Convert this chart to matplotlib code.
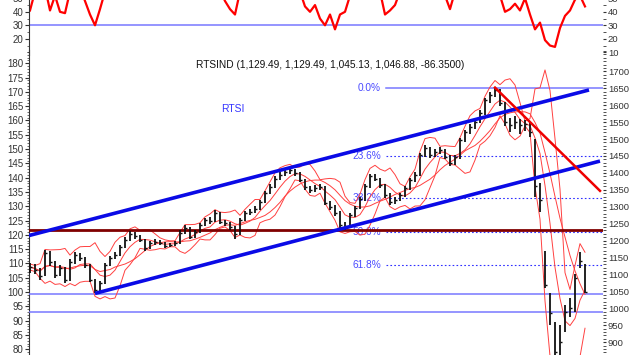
import numpy as np
import pandas as pd
import matplotlib
matplotlib.use("Agg")
import matplotlib.pyplot as plt
from matplotlib.ticker import MultipleLocator, FixedLocator

plt.rcParams["font.family"] = ["Liberation Sans", "DejaVu Sans"]

# RTSI bars (about two sessions per bar)
close = [
    1122, 1113, 1096, 1164, 1137, 1099, 1119, 1084, 1137, 1158,
    1149, 1128, 1084, 1054, 1075, 1128, 1149, 1158, 1181, 1202,
    1220, 1214, 1202, 1178, 1193, 1196, 1193, 1184, 1187, 1193,
    1223, 1237, 1211, 1226, 1246, 1261, 1258, 1282, 1255, 1252,
    1240, 1220, 1261, 1282, 1285, 1294, 1314, 1341, 1358, 1382,
    1394, 1403, 1409, 1400, 1379, 1358, 1350, 1355, 1358, 1311,
    1299, 1282, 1246, 1243, 1276, 1296, 1323, 1361, 1391, 1382,
    1364, 1335, 1315, 1320, 1335, 1355, 1379, 1394, 1453, 1474,
    1453, 1462, 1468, 1447, 1429, 1447, 1497, 1521, 1536, 1551,
    1577, 1615, 1630, 1645, 1607, 1550, 1542, 1550, 1542, 1545,
    1520, 1360, 1320, 1070, 985, 870, 900, 990, 1000, 1090,
    1140, 1046.88,
]
high = [
    1135, 1130, 1118, 1172, 1168, 1140, 1128, 1122, 1145, 1166,
    1162, 1152, 1130, 1086, 1082, 1134, 1156, 1166, 1188, 1210,
    1228, 1226, 1218, 1205, 1200, 1204, 1201, 1196, 1194, 1200,
    1230, 1245, 1240, 1232, 1252, 1268, 1270, 1290, 1285, 1262,
    1256, 1244, 1268, 1288, 1294, 1302, 1320, 1348, 1366, 1390,
    1402, 1412, 1418, 1412, 1404, 1382, 1362, 1364, 1368, 1362,
    1318, 1304, 1286, 1254, 1282, 1302, 1330, 1368, 1398, 1396,
    1386, 1368, 1340, 1328, 1342, 1362, 1386, 1402, 1460, 1482,
    1478, 1470, 1476, 1472, 1452, 1454, 1504, 1528, 1544, 1558,
    1585, 1622, 1638, 1654, 1648, 1610, 1562, 1568, 1560, 1556,
    1550, 1500, 1370, 1170, 1045, 960, 950, 1010, 1030, 1100,
    1165, 1129.49,
]
low = [
    1105, 1100, 1085, 1095, 1125, 1090, 1095, 1075, 1082, 1132,
    1140, 1120, 1078, 1045, 1050, 1072, 1124, 1145, 1155, 1178,
    1198, 1206, 1195, 1170, 1175, 1188, 1186, 1178, 1180, 1184,
    1190, 1220, 1205, 1208, 1222, 1243, 1250, 1255, 1248, 1244,
    1232, 1205, 1218, 1258, 1276, 1282, 1290, 1310, 1338, 1355,
    1378, 1390, 1398, 1392, 1372, 1350, 1342, 1344, 1350, 1305,
    1290, 1272, 1238, 1232, 1240, 1270, 1292, 1318, 1356, 1375,
    1356, 1326, 1306, 1308, 1316, 1330, 1350, 1374, 1390, 1448,
    1445, 1448, 1456, 1440, 1420, 1424, 1442, 1492, 1515, 1530,
    1546, 1572, 1608, 1625, 1598, 1540, 1520, 1530, 1515, 1525,
    1505, 1330, 1285, 1060, 950, 840, 805, 930, 975, 990,
    1120, 1045.13,
]
# RSI (values above ~49 are cut off by the frame)
rsi = [
    41, 55, 52, 58, 41, 52, 40, 39, 55, 60,
    58, 48, 38, 30, 42, 55, 60, 62, 63, 62,
    64, 62, 60, 58, 60, 61, 59, 57, 58, 60,
    63, 64, 58, 60, 63, 65, 62, 64, 56, 48,
    42, 38, 55, 60, 61, 62, 64, 66, 68, 69,
    70, 68, 66, 62, 55, 44, 40, 45, 35, 30,
    38, 27, 38, 40, 52, 58, 62, 66, 67, 60,
    55, 38, 41, 45, 55, 60, 63, 65, 70, 69,
    62, 60, 58, 52, 42, 55, 64, 67, 68, 70,
    72, 74, 75, 73, 52, 40, 42, 46, 41, 50,
    38, 27, 32, 19, 15, 14, 28, 37, 41, 49,
    52, 44,
]

# analyst drawings: (bar, value) anchors
upper_channel = ([-0.2, 111.8], [1215, 1645])
lower_channel = ([13.0, 114.0], [1044, 1435])
down_trend = ([93.0, 114.0], [1652, 1347])
fib_high, fib_low = 1650, 803
fib_levels = [0.0, 0.236, 0.382, 0.5, 0.618]
fib_start = 71.2
support_lines = [1042, 989]
resistance_line = 1232
rsi_line = 30

header = "RTSIND (1,129.49, 1,129.49, 1,045.13, 1,046.88, -86.3500)"

W, H = 630, 355
fig = plt.figure(figsize=(W / 100, H / 100), dpi=100)


def rect(x0, x1, y0, y1):
    return [x0 / W, 1 - y1 / H, (x1 - x0) / W, (y1 - y0) / H]


xlim = (-0.2, 114.6)
ax = fig.add_axes(rect(29, 603, 50, 360))
ax.patch.set_visible(False)
ax_rsi = fig.add_axes(rect(29, 603, -45, 55))
ax_rsi.patch.set_visible(False)

x = np.arange(len(close))
s = pd.Series(close, dtype=float)

# bollinger over 5 bars (~10 sessions) plus a 10-bar average
mid = s.rolling(5, min_periods=1).mean()
sd = s.rolling(5, min_periods=2).std(ddof=0).bfill()
bb_up = mid + 2 * sd
bb_dn = mid - 2 * sd
ma10 = s.rolling(10, min_periods=1).mean()

band_kw = dict(color="#ff4040", lw=0.7, zorder=2)
ax.plot(x, bb_up, **band_kw)
ax.plot(x, bb_dn, **band_kw)
ax.plot(x, mid, **band_kw)
ax.plot(x, ma10, **band_kw)

# price bars
ax.vlines(x, low, high, color="#111111", lw=1.3, zorder=4)
ax.hlines(close, x, x + 0.4, color="#111111", lw=1.0, zorder=4)

# horizontal levels
for lv in support_lines:
    ax.axhline(lv, color="#7878ff", lw=1.1, zorder=1)
ax.axhline(resistance_line, color="#800000", lw=2.0, zorder=3)

for f in fib_levels:
    lv = fib_high - f * (fib_high - fib_low)
    if f == 0:
        ax.plot([fib_start, xlim[1]], [lv, lv], color="#7878ff", lw=1.1, zorder=1)
    else:
        ax.plot([fib_start, xlim[1]], [lv, lv], color="#3030ff", lw=0.8,
                ls=(0, (1.5, 2)), zorder=1)
    ax.text(fib_start - 1.0, lv, f"{f * 100:.1f}%", ha="right", va="center",
            fontsize=7.3, color="#4a4aff", zorder=1)

ax.plot(*upper_channel, color="#0a0ae6", lw=2.6, zorder=5, solid_capstyle="butt")
ax.plot(*lower_channel, color="#0a0ae6", lw=2.6, zorder=5, solid_capstyle="butt")
ax.plot(*down_trend, color="#ee0000", lw=1.8, zorder=5)

ax.set_xlim(*xlim)
ax.set_ylim(847.3, 1763.1)
for sp in ax.spines.values():
    sp.set_visible(False)
ax.set_xticks([])
ax.yaxis.tick_right()
ax.yaxis.set_major_locator(FixedLocator(np.arange(900, 1701, 50)))
ax.yaxis.set_minor_locator(MultipleLocator(10))
ax.tick_params(axis="y", which="major", length=2.5, width=0.8, labelsize=6.8, pad=1, colors="#333333")
ax.tick_params(axis="y", which="minor", length=2, width=0.6, colors="#333333")

sec = ax.secondary_yaxis("left", functions=(lambda r: (r - 203.1) / 8.449,
                                           lambda v: 203.1 + 8.449 * v))
sec.yaxis.set_major_locator(MultipleLocator(5))
sec.yaxis.set_minor_locator(MultipleLocator(1))
sec.tick_params(axis="y", which="major", length=3, width=0.8, labelsize=7, pad=1, colors="#333333")
sec.tick_params(axis="y", which="minor", length=1.5, width=0.5, colors="#333333")
sec.spines["left"].set_color("#333333")
sec.spines["left"].set_linewidth(0.8)

# RSI panel
ax_rsi.axhline(rsi_line, color="#7878ff", lw=1.1)
ax_rsi.plot(x, rsi, color="#ff0000", lw=1.6)
ax_rsi.set_xlim(*xlim)
ax_rsi.set_ylim(8.0, 82.1)
for k in ["top", "bottom", "right"]:
    ax_rsi.spines[k].set_visible(False)
ax_rsi.spines["left"].set_color("#333333")
ax_rsi.spines["left"].set_linewidth(0.8)
ax_rsi.set_xticks([])
ax_rsi.set_yticks([20, 30, 40, 50])
ax_rsi.yaxis.set_minor_locator(MultipleLocator(5))
ax_rsi.tick_params(axis="y", which="major", length=3, width=0.8, labelsize=7, pad=1, colors="#333333")
ax_rsi.tick_params(axis="y", which="minor", length=1.5, width=0.5, colors="#333333")
rsi_r = ax_rsi.secondary_yaxis("right")
rsi_r.set_yticks([10, 20, 30, 40, 50])
rsi_r.yaxis.set_minor_locator(MultipleLocator(5))
rsi_r.spines["right"].set_visible(False)
rsi_r.tick_params(axis="y", which="major", length=2.5, width=0.8, labelsize=6.8, pad=1, colors="#333333")
rsi_r.tick_params(axis="y", which="minor", length=2, width=0.6, colors="#333333")

fig.text(196 / W, 1 - 65 / H, header, fontsize=7.3, ha="left", va="center", color="#111111")
fig.text(221 / W, 1 - 109 / H, "RTSI", fontsize=7.5, ha="left", va="center", color="#3535ff")

fig.savefig("out.png", dpi=100)
